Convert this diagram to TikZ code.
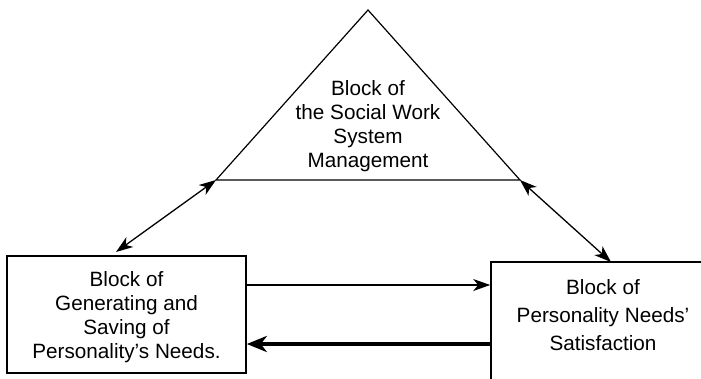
\documentclass[tikz,border=0pt]{standalone}
\usepackage{fontspec}
\setmainfont{Liberation Sans}
\usetikzlibrary{arrows.meta,calc}
\tikzset{
  blocktext/.style={align=center, inner sep=0pt, font=\fontsize{20.7}{24}\selectfont},
  blockbox/.style={draw, line width=1.6pt, inner sep=0pt},
  link/.style={line width=1.3pt, {Stealth[length=17pt,width=12pt,inset=5pt]}-{Stealth[length=17pt,width=12pt,inset=5pt]}},
  feed/.style={line width=1.3pt, -{Stealth[length=17pt,width=12pt,inset=5pt]}},
  back/.style={line width=3.5pt, -{Stealth[length=20pt,width=16pt,inset=6pt]}}
}
\begin{document}
\begin{tikzpicture}[x=1pt, y=-1pt]
  \useasboundingbox (0,0) rectangle (701,378);
  \clip (0,0) rectangle (701,378);
  % management triangle
  \coordinate (top) at (368,10);
  \coordinate (tl) at (216,180);
  \coordinate (tr) at (520,180);
  \draw [line width=1.2pt, line join=miter] (top) -- (tr) -- (tl) -- cycle;
  \node [blocktext] (mgmt) at (368,126) {Block of\\the Social Work\\System\\Management};
  % lower blocks
  \node [blockbox, minimum width=239pt, minimum height=117pt] (gen) at (126.5,314.5) {};
  \node [blocktext] (genText) at (126.5,317) {Block of\\Generating and\\Saving of\\Personality’s Needs.};
  \node [blockbox, minimum width=224pt, minimum height=128pt] (sat) at (603,326) {};
  \node [blocktext, font=\fontsize{20.7}{28}\selectfont] (satText) at (603,315) {Block of\\Personality Needs’\\Satisfaction};
  % connections
  \coordinate (genTop) at (116,252);
  \coordinate (satTop) at (611,262);
  \draw [link] (genTop) -- (tl);
  \draw [link] (tr) -- (satTop);
  \draw [feed] ([yshift=29.5pt]gen.east) -- ([yshift=29.5pt]gen.east -| sat.west);
  \draw [back] ([yshift=-29.5pt]gen.east -| sat.west) -- ([yshift=-29.5pt]gen.east);
\end{tikzpicture}
\end{document}
